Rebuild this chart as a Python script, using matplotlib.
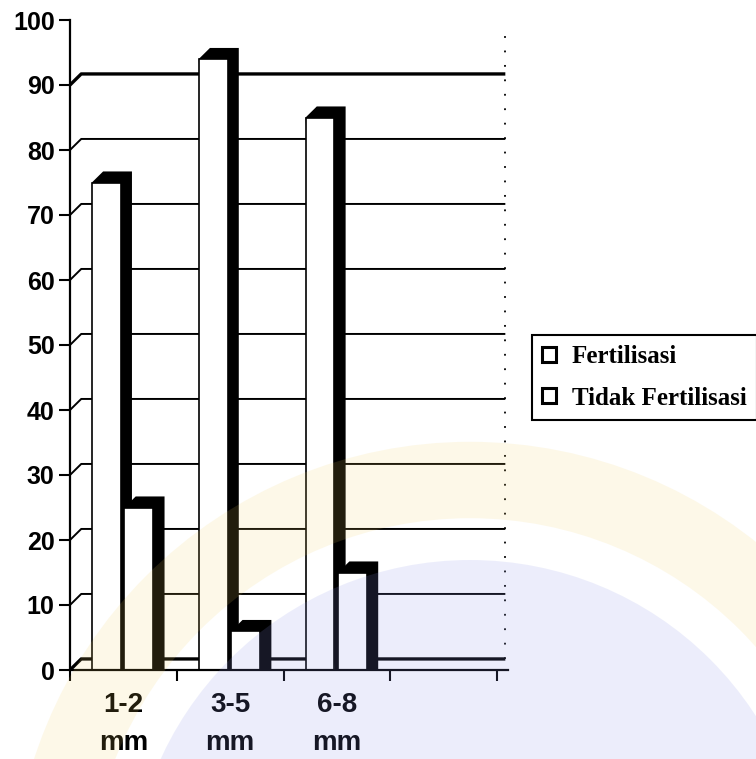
"""
Fertilisation rate by follicle size, drawn as an old-style 3D bar chart
(white fronts with black depth faces) on a stepped back wall.
"""
import matplotlib
matplotlib.use("Agg")
import matplotlib.pyplot as plt
from matplotlib.patches import Patch, Ellipse

CATEGORIES = ["1-2\nmm", "3-5\nmm", "6-8\nmm"]
FERTILISASI = [75, 94, 85]
TIDAK_FERTILISASI = [25, 6, 15]
SERIES_LABELS = ["Fertilisasi", "Tidak Fertilisasi"]
Y_TICKS = [0, 10, 20, 30, 40, 50, 60, 70, 80, 90, 100]

N_SLOTS = 4          # one empty slot after the last category
BAR_W = 0.27
OFFSETS = (0.205, 0.51)
DEPTH_X = 0.105      # 3D depth, in data units
DEPTH_Y = 1.7
WALL_END = 4.075

W, H = 756, 759


def draw_bar(ax, x, v):
    """White front face plus black top/side depth face."""
    sx = [x, x + DEPTH_X, x + BAR_W + DEPTH_X, x + BAR_W + DEPTH_X, x + BAR_W]
    sy = [v, v + DEPTH_Y, v + DEPTH_Y, 0, 0]
    ax.fill(sx, sy, color="black", lw=0, zorder=3)
    ax.bar(x, v, width=BAR_W, align="edge", facecolor="white",
           edgecolor="black", linewidth=1.2, zorder=4)


fig = plt.figure(figsize=(W / 100, H / 100), dpi=100)
fig.patch.set_facecolor("white")
ax = fig.add_axes([70 / W, 1 - 670 / H, 438 / W, 650 / H])
ax.set_facecolor("none")
ax.set_xlim(0, N_SLOTS + 0.1)
ax.set_ylim(0, 100)

# back wall gridlines, stepping up off the value axis
for level in Y_TICKS[:-1]:
    lw = 2.4 if level in (0, 90) else 1.4
    ax.plot([0, DEPTH_X, WALL_END], [level, level + DEPTH_Y, level + DEPTH_Y],
            color="black", lw=lw, zorder=1, solid_capstyle="butt")
ax.plot([WALL_END, WALL_END], [DEPTH_Y, 98], color="black", lw=1.3,
        linestyle=(0, (1, 7)), zorder=1)

for i, series in enumerate([FERTILISASI, TIDAK_FERTILISASI]):
    for j, v in enumerate(series):
        draw_bar(ax, j + OFFSETS[i], v)

for side in ("top", "right"):
    ax.spines[side].set_visible(False)
for side in ("left", "bottom"):
    ax.spines[side].set_linewidth(1.6)
    ax.spines[side].set_zorder(5)

ax.set_yticks(Y_TICKS)
ax.set_yticklabels([str(t) for t in Y_TICKS], fontfamily="Liberation Sans",
                   fontweight="bold", fontsize=18)
ax.tick_params(axis="y", length=8, width=1.5, pad=3)

ax.set_xticks(range(N_SLOTS + 1))
ax.set_xticklabels([""] * (N_SLOTS + 1))
ax.tick_params(axis="x", which="major", length=8, width=1.5)
ax.set_xticks([j + 0.5 for j in range(len(CATEGORIES))], minor=True)
ax.set_xticklabels(CATEGORIES, minor=True, fontfamily="Liberation Sans",
                   fontweight="bold", fontsize=20)
ax.tick_params(axis="x", which="minor", length=0, pad=16)
for lab in ax.get_xticklabels(minor=True):
    lab.set_linespacing(1.6)

handles = [Patch(facecolor="white", edgecolor="black", linewidth=2.2, label=s)
           for s in SERIES_LABELS]
leg = fig.legend(handles=handles, loc="upper left",
                 bbox_to_anchor=(532 / W, 1 - 335 / H),
                 bbox_transform=fig.transFigure, frameon=True, fancybox=False,
                 edgecolor="black", framealpha=1,
                 prop=dict(family="Liberation Serif", weight="bold", size=18),
                 handlelength=0.55, handleheight=0.55, handletextpad=0.65,
                 labelspacing=0.75, borderpad=0.4, borderaxespad=0)
leg.get_frame().set_linewidth(1.5)

# faint seal stamped over the lower half of the page
fig.add_artist(Ellipse((470 / W, 1 - 900 / H), 2 * 420 / W, 2 * 420 / H,
                       transform=fig.transFigure, facecolor="none",
                       edgecolor="#f2d060", linewidth=55, alpha=0.14, zorder=10))
fig.add_artist(Ellipse((470 / W, 1 - 900 / H), 2 * 340 / W, 2 * 340 / H,
                       transform=fig.transFigure, facecolor="#8d95e8",
                       edgecolor="none", alpha=0.16, zorder=10))

fig.savefig("out.png", dpi=100)
